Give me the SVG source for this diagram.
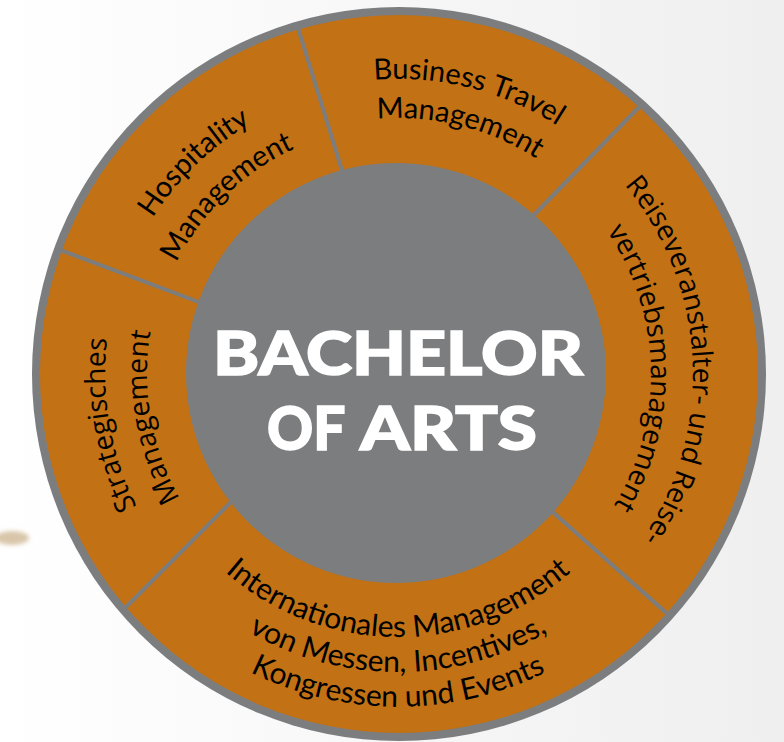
<svg xmlns="http://www.w3.org/2000/svg" width="784" height="742" viewBox="0 0 784 742">
  <defs>
    <linearGradient id="bg" x1="0" y1="0" x2="1" y2="0">
      <stop offset="0" stop-color="#ffffff"/>
      <stop offset="1" stop-color="#efefef"/>
    </linearGradient>
    <filter id="blur" x="-50%" y="-50%" width="200%" height="200%">
      <feGaussianBlur stdDeviation="2"/>
    </filter>
    <path id="p-hosp1" d="M156.8,536.7 A291,291 0 0 1 569.0,138.6"/>
    <path id="p-hosp2" d="M192.4,512.7 A248,248 0 0 1 543.8,173.4"/>
    <path id="p-bus1" d="M153.4,209.0 A295,295 0 0 1 691.4,343.2"/>
    <path id="p-bus2" d="M185.8,230.8 A256,256 0 0 1 652.6,347.2"/>
    <path id="p-reise1" d="M434.0,81.2 A295,295 0 0 1 464.4,661.4"/>
    <path id="p-reise2" d="M435.4,123.8 A253,253 0 0 1 448.4,621.9"/>
    <path id="p-int1" d="M139.0,419.7 A263,263 0 0 0 657.0,419.7"/>
    <path id="p-int2" d="M104.5,425.7 A298,298 0 0 0 691.5,425.7"/>
    <path id="p-int3" d="M70.1,431.8 A333,333 0 0 0 725.9,431.8"/>
    <path id="p-str1" d="M398,667 A293,293 0 0 1 297.8,98.7"/>
    <path id="p-str2" d="M398,625 A251,251 0 0 1 312.2,138.1"/>
  </defs>
  <style>
    .ring { fill: #7c7d7f; }
    .seg { fill: #c27114; }
    .divider { stroke: #7c7d7f; stroke-width: 4; stroke-linecap: butt; }
    .hub { fill: #7c7d7f; }
    .gill { font-family: Lato, "Open Sans", sans-serif; font-size: 29px; fill: #000; }
    .gill30 { font-size: 30px; }
    .segoe { font-family: "Open Sans", "Noto Sans", sans-serif; font-size: 28px; fill: #000; }
    .title { font-family: Lato, "Open Sans", sans-serif; font-weight: 900; font-size: 60px; fill: #fff; stroke: #fff; stroke-width: 1.5; }
  </style>

  <rect x="0" y="0" width="784" height="742" fill="url(#bg)"/>
  <ellipse cx="12" cy="538" rx="17" ry="7" fill="#d9c6aa" filter="url(#blur)"/>

  <g id="wheel">
    <circle class="ring" cx="399" cy="374" r="367"/>
    <circle class="seg" cx="399" cy="374" r="359"/>
  </g>

  <g id="connectors">
    <line class="divider" x1="296.5" y1="23" x2="345" y2="180"/>
    <line class="divider" x1="643" y1="103" x2="529" y2="220"/>
    <line class="divider" x1="547" y1="507" x2="671" y2="617"/>
    <line class="divider" x1="235" y1="498" x2="121" y2="612"/>
    <line class="divider" x1="55" y1="248" x2="208" y2="305.5"/>
  </g>

  <g id="center">
    <circle class="hub" cx="396" cy="373" r="210"/>
    <text class="title" x="398" y="375" text-anchor="middle" textLength="370" lengthAdjust="spacingAndGlyphs">BACHELOR</text>
    <text class="title" y="450"><tspan x="267" textLength="77" lengthAdjust="spacingAndGlyphs">OF</tspan> <tspan x="360" textLength="177" lengthAdjust="spacingAndGlyphs">ARTS</tspan></text>
  </g>

  <g id="hospitality">
    <text class="gill"><textPath href="#p-hosp1" startOffset="50%" text-anchor="middle">Hospitality</textPath></text>
    <text class="gill"><textPath href="#p-hosp2" startOffset="50%" text-anchor="middle">Management</textPath></text>
  </g>

  <g id="business-travel">
    <text class="gill"><textPath href="#p-bus1" startOffset="50%" text-anchor="middle">Business Travel</textPath></text>
    <text class="gill"><textPath href="#p-bus2" startOffset="50%" text-anchor="middle">Management</textPath></text>
  </g>

  <g id="reiseveranstalter">
    <text class="segoe"><textPath href="#p-reise1" startOffset="50%" text-anchor="middle">Reiseveranstalter- und Reise-</textPath></text>
    <text class="segoe"><textPath href="#p-reise2" startOffset="50%" text-anchor="middle">vertriebsmanagement</textPath></text>
  </g>

  <g id="internationales">
    <text class="gill gill30"><textPath href="#p-int1" startOffset="50%" text-anchor="middle">Internationales Management</textPath></text>
    <text class="gill gill30"><textPath href="#p-int2" startOffset="50%" text-anchor="middle">von Messen, Incentives,</textPath></text>
    <text class="gill gill30"><textPath href="#p-int3" startOffset="50%" text-anchor="middle">Kongressen und Events</textPath></text>
  </g>

  <g id="strategisches">
    <text class="segoe"><textPath href="#p-str1" startOffset="50%" text-anchor="middle">Strategisches</textPath></text>
    <text class="segoe"><textPath href="#p-str2" startOffset="50%" text-anchor="middle">Management</textPath></text>
  </g>
</svg>
